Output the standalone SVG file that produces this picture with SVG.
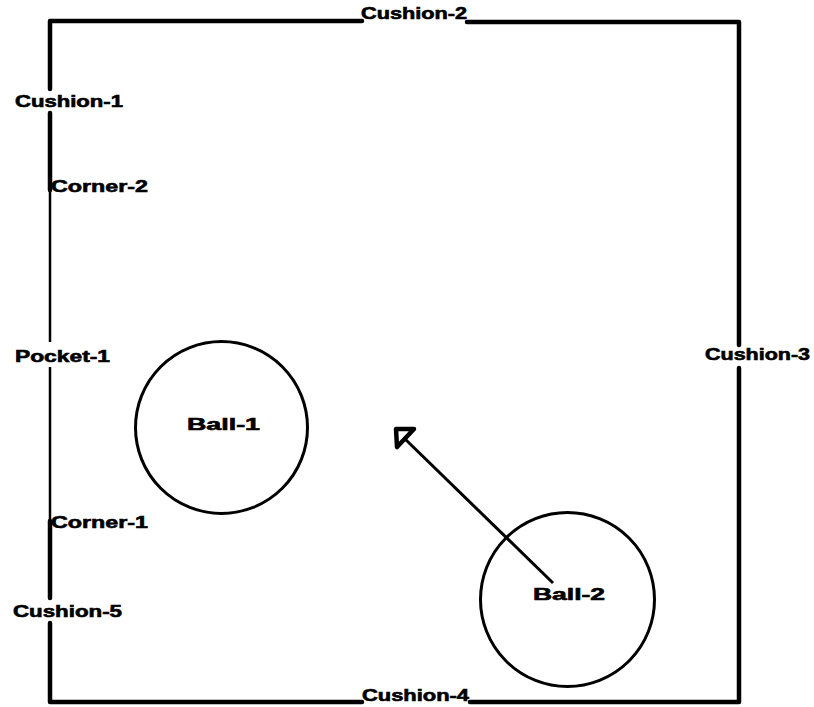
<svg xmlns="http://www.w3.org/2000/svg" width="814" height="707" viewBox="0 0 814 707">
<style>
.cush{stroke:#000;stroke-width:4.5;fill:none;stroke-linecap:round;stroke-linejoin:round}
.pocket{stroke:#000;stroke-width:2.5;fill:none}
.ball{stroke:#000;stroke-width:3;fill:none}
.lbl{font-family:"Liberation Sans",Arial,sans-serif;font-weight:bold;font-size:16px;fill:#000;stroke:#000;stroke-width:0.6}
</style>
<rect width="814" height="707" fill="#fff"/>
<g id="table">
<polyline class="cush" points="362,21 50,21 50,89"/>
<polyline class="cush" points="467,22 739,22 739,345"/>
<polyline class="cush" points="739,368 739,702 470,702"/>
<polyline class="cush" points="362,702 50,702 50,623"/>
<line class="cush" x1="50" y1="113" x2="50" y2="190"/>
<line class="cush" x1="50" y1="521" x2="50" y2="598"/>
<line class="pocket" x1="50" y1="190" x2="50" y2="342"/>
<line class="pocket" x1="50" y1="367" x2="50" y2="521"/>
</g>
<g id="cushion-1"><text class="lbl" x="15" y="107" textLength="108" lengthAdjust="spacingAndGlyphs">Cushion-1</text></g>
<g id="cushion-2"><text class="lbl" x="361" y="19" textLength="106" lengthAdjust="spacingAndGlyphs">Cushion-2</text></g>
<g id="cushion-3"><text class="lbl" x="705" y="360" textLength="105" lengthAdjust="spacingAndGlyphs">Cushion-3</text></g>
<g id="cushion-4"><text class="lbl" x="362" y="701" textLength="107" lengthAdjust="spacingAndGlyphs">Cushion-4</text></g>
<g id="cushion-5"><text class="lbl" x="13" y="617" textLength="109" lengthAdjust="spacingAndGlyphs">Cushion-5</text></g>
<g id="corner-2"><text class="lbl" x="51" y="192" textLength="97" lengthAdjust="spacingAndGlyphs">Corner-2</text></g>
<g id="corner-1"><text class="lbl" x="51" y="528" textLength="97" lengthAdjust="spacingAndGlyphs">Corner-1</text></g>
<g id="pocket-1"><text class="lbl" x="15" y="362" textLength="95" lengthAdjust="spacingAndGlyphs">Pocket-1</text></g>
<g id="ball-1">
<circle class="ball" cx="221.5" cy="427.5" r="86"/>
<text class="lbl" x="187" y="430" textLength="73" lengthAdjust="spacingAndGlyphs">Ball-1</text>
</g>
<g id="ball-2">
<circle class="ball" cx="567.5" cy="599.5" r="87"/>
<text class="lbl" x="533" y="600" textLength="72" lengthAdjust="spacingAndGlyphs">Ball-2</text>
</g>
<g id="connectors">
<line x1="553" y1="583" x2="404" y2="438" stroke="#000" stroke-width="3"/>
<polygon points="396,429 414,429 397,447" fill="#fff" stroke="#000" stroke-width="4.5" stroke-linejoin="round"/>
</g>
</svg>
